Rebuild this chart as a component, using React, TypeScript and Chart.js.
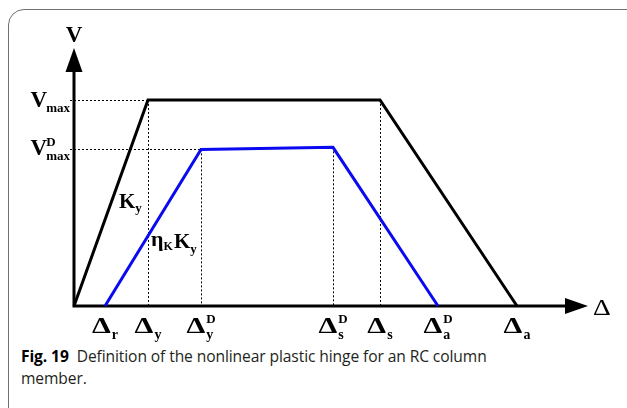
import React, { useEffect, useRef } from "react";
import { Chart, registerables } from "chart.js";

Chart.register(...registerables);

const SERIF = '"Liberation Serif", "Times New Roman", serif';

// Characteristic displacements on the Δ axis (schematic units)
const dispValues = [3.1, 7.4, 12.7, 25.9, 30.6, 36.4, 44.3];
const dispSub = ["r", "y", "y", "s", "s", "a", "a"];
const dispSup = ["", "", "D", "D", "", "D", ""];

// Shear strength levels (normalised by Vmax)
const vMax = 1.0;
const vMaxDLeft = 0.76;
const vMaxDRight = 0.77;

// Intact backbone: origin -> Δy -> Δs -> Δa
const intactX = [0, dispValues[1], dispValues[4], dispValues[6]];
const intactV = [0, vMax, vMax, 0];
// Degraded backbone: Δr -> ΔyD -> ΔsD -> ΔaD
const damagedX = [dispValues[0], dispValues[2], dispValues[3], dispValues[5]];
const damagedV = [0, vMaxDLeft, vMaxDRight, 0];

// Axis extents (arrow tips)
const X_END = 51.4;
const Y_END = 1.252;

const W = 627;
const H = 345;

type Ctx = CanvasRenderingContext2D;

// Draws a base glyph with optional subscript / superscript; the base glyph
// can be widened horizontally by `stretch`.
function scripted(
  ctx: Ctx,
  base: string,
  baseFont: string,
  sub: string,
  subFont: string,
  subDy: number,
  sup: string,
  supFont: string,
  supDy: number,
  x: number,
  y: number,
  align: "left" | "center" | "right",
  gap = 0,
  stretch = 1
) {
  ctx.font = baseFont;
  const wb = ctx.measureText(base).width * stretch;
  ctx.font = subFont;
  const ws = sub ? ctx.measureText(sub).width : 0;
  ctx.font = supFont;
  const wp = sup ? ctx.measureText(sup).width : 0;
  const total = wb + gap + Math.max(ws, wp);
  let x0 = x;
  if (align === "center") x0 = x - total / 2;
  else if (align === "right") x0 = x - total;
  ctx.textAlign = "left";
  ctx.textBaseline = "alphabetic";
  ctx.font = baseFont;
  ctx.save();
  ctx.translate(x0, y);
  ctx.scale(stretch, 1);
  ctx.fillText(base, 0, 0);
  ctx.restore();
  if (sub) {
    ctx.font = subFont;
    ctx.fillText(sub, x0 + wb + gap, y + subDy);
  }
  if (sup) {
    ctx.font = supFont;
    ctx.fillText(sup, x0 + wb + gap, y + supDy);
  }
}

const hingePlot = {
  id: "hingePlot",
  beforeDatasetsDraw(chart: any) {
    const ctx: Ctx = chart.ctx;
    const xs = chart.scales.x;
    const ys = chart.scales.y;
    const x0 = xs.getPixelForValue(0);
    const y0 = ys.getPixelForValue(0);
    const xEnd = xs.getPixelForValue(X_END);
    const yEnd = ys.getPixelForValue(Y_END);
    ctx.save();

    // dotted guides
    ctx.strokeStyle = "#000";
    ctx.lineWidth = 1;
    ctx.setLineDash([2, 2]);
    const vline = (xv: number, vv: number) => {
      const px = Math.round(xs.getPixelForValue(xv)) + 0.5;
      ctx.beginPath();
      ctx.moveTo(px, ys.getPixelForValue(vv));
      ctx.lineTo(px, y0);
      ctx.stroke();
    };
    const hline = (vv: number, xv: number) => {
      const py = Math.round(ys.getPixelForValue(vv)) + 0.5;
      ctx.beginPath();
      ctx.moveTo(x0 - 4, py);
      ctx.lineTo(xs.getPixelForValue(xv), py);
      ctx.stroke();
    };
    hline(vMax, dispValues[1]);
    hline(vMaxDLeft, dispValues[2]);
    vline(dispValues[1], vMax);
    vline(dispValues[4], vMax);
    vline(dispValues[2], vMaxDLeft);
    vline(dispValues[3], vMaxDRight);
    ctx.setLineDash([]);

    // axes with arrow heads
    ctx.lineWidth = 3;
    ctx.beginPath();
    ctx.moveTo(x0, y0);
    ctx.lineTo(x0, yEnd + 22);
    ctx.moveTo(x0 - 1.5, y0);
    ctx.lineTo(xEnd - 22, y0);
    ctx.stroke();
    ctx.fillStyle = "#000";
    ctx.beginPath();
    ctx.moveTo(x0, yEnd);
    ctx.lineTo(x0 - 8.5, yEnd + 24);
    ctx.lineTo(x0 + 8.5, yEnd + 24);
    ctx.closePath();
    ctx.fill();
    ctx.beginPath();
    ctx.moveTo(xEnd, y0);
    ctx.lineTo(xEnd - 23, y0 - 8);
    ctx.lineTo(xEnd - 23, y0 + 8);
    ctx.closePath();
    ctx.fill();
    ctx.restore();
  },
  afterDatasetsDraw(chart: any) {
    const ctx: Ctx = chart.ctx;
    const xs = chart.scales.x;
    const ys = chart.scales.y;
    const x0 = xs.getPixelForValue(0);
    const y0 = ys.getPixelForValue(0);
    const xEnd = xs.getPixelForValue(X_END);
    const yEnd = ys.getPixelForValue(Y_END);
    ctx.save();
    ctx.fillStyle = "#000";

    const big = `bold 23px ${SERIF}`;
    const small = `bold 13px ${SERIF}`;
    const maxFont = `bold 13px ${SERIF}`;

    // axis titles
    ctx.font = big;
    ctx.textAlign = "center";
    ctx.textBaseline = "alphabetic";
    ctx.fillText("V", x0, yEnd - 6);
    scripted(ctx, "Δ", `24px ${SERIF}`, "", small, 0, "", small, 0, xEnd + 5, y0 + 9, "left", 0, 1.15);

    // strength labels
    const yVm = ys.getPixelForValue(vMax);
    scripted(ctx, "V", big, "max", maxFont, 5, "", maxFont, 0, x0 - 4, yVm + 7, "right", -1);
    const yVd = ys.getPixelForValue(vMaxDLeft);
    scripted(ctx, "V", big, "max", maxFont, 5, "D", maxFont, -9, x0 - 4, yVd + 6, "right", -1);

    // displacement labels
    dispValues.forEach((v, i) => {
      scripted(
        ctx,
        "Δ",
        `bold 24px ${SERIF}`,
        dispSub[i],
        `bold 14px ${SERIF}`,
        6,
        dispSup[i],
        `bold 13px ${SERIF}`,
        -10,
        xs.getPixelForValue(v),
        y0 + 27,
        "center",
        1,
        1.25
      );
    });

    // stiffness labels
    const kyX = xs.getPixelForValue(4.5);
    const kyY = ys.getPixelForValue(0.476);
    scripted(ctx, "K", `bold 21px ${SERIF}`, "y", small, 4, "", small, 0, kyX, kyY, "left");
    const etaX = xs.getPixelForValue(7.7);
    const etaY = ys.getPixelForValue(0.29);
    scripted(ctx, "η", `bold 22px ${SERIF}`, "K", `bold 12px ${SERIF}`, 4, "", small, 0, etaX, etaY, "left");
    scripted(ctx, "K", `bold 21px ${SERIF}`, "y", small, 5, "", small, 0, etaX + 23, etaY + 2, "left");
    ctx.restore();
  },
};

export default function App() {
  const ref = useRef<HTMLCanvasElement | null>(null);

  useEffect(() => {
    if (!ref.current) return;
    const toPts = (xsArr: number[], vsArr: number[]) =>
      xsArr.map((x, i) => ({ x, y: vsArr[i] }));
    const chart = new Chart(ref.current, {
      type: "line",
      data: {
        datasets: [
          {
            label: "Intact",
            data: toPts(intactX, intactV),
            borderColor: "#000000",
            borderWidth: 3,
            pointRadius: 0,
            tension: 0,
            fill: false,
            clip: false as any,
            borderJoinStyle: "miter",
          },
          {
            label: "Damaged",
            data: toPts(damagedX, damagedV),
            borderColor: "#0a0af0",
            borderWidth: 3,
            pointRadius: 0,
            tension: 0,
            fill: false,
            clip: false as any,
            borderJoinStyle: "miter",
          },
        ],
      },
      options: {
        animation: false,
        responsive: false,
        devicePixelRatio: 1,
        layout: { padding: { left: 74, right: W - 588, top: 48, bottom: H - 306 } },
        scales: {
          x: { type: "linear", min: 0, max: X_END, display: false },
          y: { type: "linear", min: 0, max: Y_END, display: false },
        },
        plugins: { legend: { display: false }, tooltip: { enabled: false } },
        events: [],
      },
      plugins: [hingePlot],
    });
    return () => chart.destroy();
  }, []);

  return (
    <div
      style={{
        position: "absolute",
        left: 0,
        top: 0,
        width: W,
        height: 408,
        overflow: "hidden",
        background: "#fff",
      }}
    >
      <div
        style={{
          position: "absolute",
          left: 8,
          top: 9,
          width: 700,
          height: 500,
          border: "1.5px solid #707070",
          borderRadius: 16,
          boxSizing: "border-box",
        }}
      />
      <canvas
        ref={ref}
        width={W}
        height={H}
        style={{ position: "absolute", left: 0, top: 0, width: W, height: H }}
      />
      <div
        style={{
          position: "absolute",
          left: 21,
          top: 345,
          width: 600,
          fontFamily: '"Open Sans", "Noto Sans", sans-serif',
          fontSize: 15.6,
          lineHeight: "22px",
          color: "#231f20",
          whiteSpace: "nowrap",
          letterSpacing: "-0.1px",
        }}
      >
        <span style={{ fontWeight: 700, color: "#000" }}>Fig. 19</span>
        <span>{"\u00a0\u00a0"}Definition of the nonlinear plastic hinge for an RC column</span>
        <br />
        <span>member.</span>
      </div>
    </div>
  );
}
